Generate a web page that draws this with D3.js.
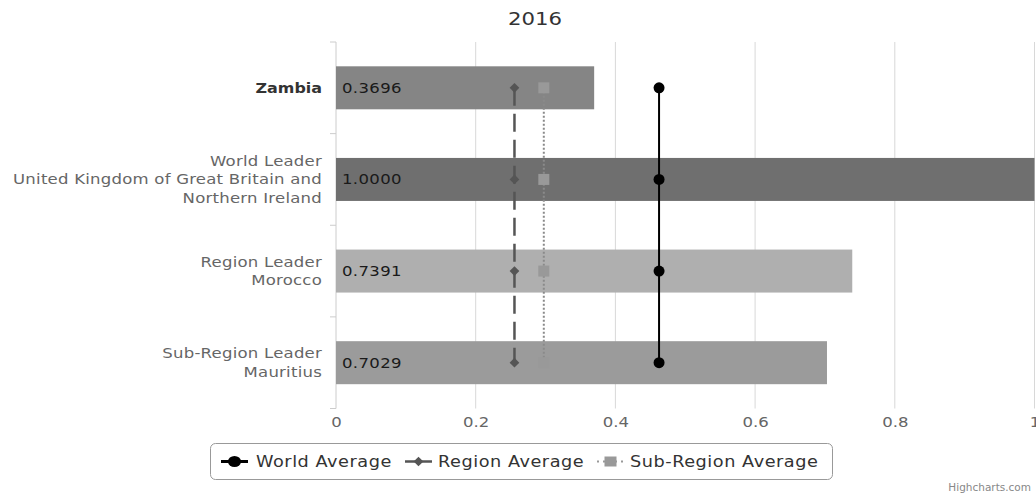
<!DOCTYPE html>
<html><head><meta charset="utf-8">
<script src="https://cdn.jsdelivr.net/npm/d3@7"></script>
<style>
body{margin:0;background:#fff;}
svg{display:block;font-family:"DejaVu Sans",Verdana,sans-serif;}
</style></head>
<body><svg id="c" width="1036" height="496"></svg>
<script>
const title = "2016";
const categories = ["Zambia", "World Leader|United Kingdom of Great Britain and|Northern Ireland", "Region Leader|Morocco", "Sub-Region Leader|Mauritius"];
const barValues = [0.3696, 1.0000, 0.7391, 0.7029];
const barColors = ["#858585", "#6f6f6f", "#afafaf", "#9b9b9b"];
const worldAverage = [0.4625, 0.4625, 0.4625, 0.4625];
const regionAverage = [0.2555, 0.2555, 0.2555, 0.2555];
const subRegionAverage = [0.2975, 0.2975, 0.2975, 0.2975];
const xTicks = [0, 0.2, 0.4, 0.6, 0.8, 1];
const legendNames = ["World Average", "Region Average", "Sub-Region Average"];

const svg = d3.select("#c");
const S = 1.18; // horizontal glyph stretch seen in the reference
const tr = (px, py) => `translate(${px},${py}) scale(${S},1)`;
const pLeft = 336, pRight = 1034.5, pTop = 42, pBottom = 408.5;
const x = d3.scaleLinear().domain([0, 1]).range([pLeft, pRight]);
const y = d3.scaleBand().domain(d3.range(categories.length)).range([pTop, pBottom]).paddingInner(0).paddingOuter(0);
const bh = 43;
const cy = i => y(i) + y.bandwidth() / 2;

// title
svg.append("text").attr("transform", tr(535, 25)).attr("text-anchor", "middle")
  .attr("font-size", 18).attr("fill", "#333").text(title);

// gridlines
svg.append("g").selectAll("line").data(xTicks.filter(t => t > 0)).join("line")
  .attr("x1", d => x(d)).attr("x2", d => x(d)).attr("y1", pTop).attr("y2", pBottom)
  .attr("stroke", "#d8d8d8").attr("stroke-width", 1);

// x axis labels
svg.append("g").selectAll("text").data(xTicks).join("text")
  .attr("transform", d => tr(x(d) + 0.5, 427)).attr("text-anchor", "middle")
  .attr("font-size", 14).attr("fill", "#666")
  .text(d => d3.format("")(d));

// y axis line and ticks
svg.append("line").attr("x1", pLeft).attr("x2", pLeft).attr("y1", pTop).attr("y2", pBottom)
  .attr("stroke", "#ccc").attr("stroke-width", 1);
const yb = d3.range(categories.length + 1).map(i => i < categories.length ? y(i) : pBottom);
svg.append("g").selectAll("line").data(yb).join("line")
  .attr("x1", pLeft - 6).attr("x2", pLeft).attr("y1", d => d).attr("y2", d => d)
  .attr("stroke", "#ccc");

// bars
svg.append("g").selectAll("rect").data(barValues).join("rect")
  .attr("x", x(0)).attr("y", (d, i) => cy(i) - bh / 2)
  .attr("width", d => x(d) - x(0)).attr("height", bh)
  .attr("fill", (d, i) => barColors[i]);

// bar labels
svg.append("g").selectAll("text").data(barValues).join("text")
  .attr("transform", (d, i) => tr(x(0) + 6, cy(i) + 5))
  .attr("font-size", 14).attr("fill", "#1a1a1a").attr("letter-spacing", 0.3)
  .text(d => d.toFixed(4));

// y labels
categories.forEach((c, i) => {
  const lines = c.split("|");
  const lh = 18.5;
  const bold = i === 0;
  const t = svg.append("text").attr("text-anchor", "end").attr("font-size", bold ? 13.5 : 14)
    .attr("transform", tr(322, cy(i) + 5))
    .attr("fill", bold ? "#333" : "#666").attr("font-weight", bold ? "bold" : "normal")
    .attr("letter-spacing", bold ? 0 : 0.2);
  lines.forEach((l, k) => {
    t.append("tspan").attr("x", 0).attr("y", (k - (lines.length - 1) / 2) * lh).text(l);
  });
});

// series lines
const line = d3.line().x(d => x(d[0])).y(d => cy(d[1]));
svg.append("path").datum(subRegionAverage.map((v, i) => [v, i])).attr("d", line)
  .attr("fill", "none").attr("stroke", "#8a8a8a").attr("stroke-width", 2).attr("stroke-dasharray", "2,2");
svg.append("path").datum(regionAverage.map((v, i) => [v, i])).attr("d", line)
  .attr("fill", "none").attr("stroke", "#555").attr("stroke-width", 2.5).attr("stroke-dasharray", "18,8");
svg.append("path").datum(worldAverage.map((v, i) => [v, i])).attr("d", line)
  .attr("fill", "none").attr("stroke", "#000").attr("stroke-width", 2);

// markers
const diamond = d3.symbol().type(d3.symbolDiamond2).size(60);
svg.append("g").selectAll("rect").data(subRegionAverage).join("rect")
  .attr("x", d => x(d) - 5.5).attr("y", (d, i) => cy(i) - 5.5).attr("width", 11).attr("height", 11)
  .attr("fill", "#999");
svg.append("g").selectAll("path").data(regionAverage).join("path")
  .attr("d", diamond).attr("transform", (d, i) => `translate(${x(d)},${cy(i)})`).attr("fill", "#555");
svg.append("g").selectAll("circle").data(worldAverage).join("circle")
  .attr("cx", d => x(d)).attr("cy", (d, i) => cy(i)).attr("r", 5.5).attr("fill", "#000");

// legend
const lg = svg.append("g");
lg.append("rect").attr("x", 210.5).attr("y", 443.5).attr("width", 622).attr("height", 36).attr("rx", 5)
  .attr("fill", "#fff").attr("stroke", "#999").attr("stroke-width", 1);
const ly = 461.5;
const items = [
  {sx: 221, tx: 256, color: "#000", dash: null, w: 3, shape: "circle"},
  {sx: 405, tx: 438, color: "#555", dash: null, w: 2.5, shape: "diamond"},
  {sx: 597, tx: 630, color: "#999", dash: "2,4", w: 2, shape: "square"}
];
items.forEach((it, i) => {
  lg.append("line").attr("x1", it.sx).attr("x2", it.sx + 27).attr("y1", ly).attr("y2", ly)
    .attr("stroke", it.color).attr("stroke-width", it.w).attr("stroke-dasharray", it.dash);
  const mx = it.sx + 13.5;
  if (it.shape === "circle") lg.append("ellipse").attr("cx", mx).attr("cy", ly).attr("rx", 6.5).attr("ry", 5.5).attr("fill", it.color);
  if (it.shape === "diamond") lg.append("path").attr("d", diamond).attr("transform", `translate(${mx},${ly})`).attr("fill", it.color);
  if (it.shape === "square") lg.append("rect").attr("x", mx - 6).attr("y", ly - 5).attr("width", 12).attr("height", 10).attr("fill", it.color);
  lg.append("text").attr("transform", tr(it.tx, ly + 5.5)).attr("font-size", 15).attr("fill", "#333")
    .attr("letter-spacing", 0.45).text(legendNames[i]);
});

svg.append("text").attr("transform", `translate(1031,491) scale(1.05,1)`).attr("text-anchor", "end")
  .attr("font-size", 10).attr("fill", "#888").text("Highcharts.com");
</script></body></html>
